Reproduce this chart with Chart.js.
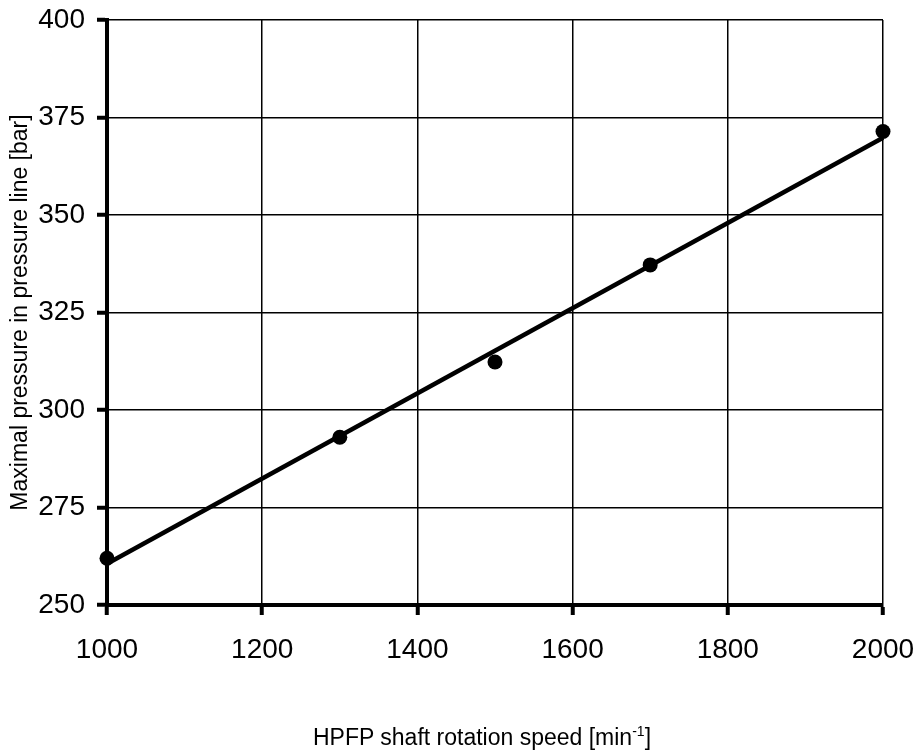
<!doctype html>
<html lang="en">
  <head>
    <meta charset="utf-8">
    <title>HPFP pressure</title>
    <style>
      * {
        margin: 0;
        padding: 0;
      }
      body {
        width: 918px;
        height: 751px;
        background: white;
        position: relative;
        overflow: hidden;
        font-family: "Liberation Sans", Arial, sans-serif;
      }
      .chartBox {
        position: absolute;
        left: 0;
        top: 0;
        width: 918px;
        height: 751px;
      }
      .xTitle {
        position: absolute;
        left: 232px;
        width: 500px;
        top: 726px;
        text-align: center;
        font-size: 23px;
        line-height: 23px;
        color: #000;
      }
      .xTitle sup {
        font-size: 14px;
        vertical-align: 9px;
        line-height: 0;
      }
    </style>
  </head>
  <body>
    <div class="chartBox">
      <canvas id="myChart" width="918" height="751"></canvas>
    </div>
    <div class="xTitle">HPFP shaft rotation speed [min<sup>-1</sup>]</div>
    <script src="https://cdn.jsdelivr.net/npm/chart.js"></script>
    <script>
    // measured points
    const speeds = [1000, 1300, 1500, 1700, 2000];
    const pressures = [262, 293, 312.3, 337.2, 371.4];

    // trend line end points
    const trendSpeeds = [1000, 2000];
    const trendPressures = [260.6, 369.8];

    const yTitle = 'Maximal pressure in pressure line [bar]';
    const fontFam = '"Liberation Sans", Arial, sans-serif';

    // no auto padding for overflowing tick labels, layout.padding decides
    function noPad(s) {
      s.paddingTop = 0;
      s.paddingBottom = 0;
      s.paddingLeft = 0;
      s.paddingRight = 0;
    }

    const data = {
      datasets: [{
        label: 'measured',
        data: speeds.map((s, i) => ({x: s, y: pressures[i]})),
        showLine: false,
        pointRadius: 7.5,
        pointHoverRadius: 7.5,
        pointBackgroundColor: '#000',
        pointBorderWidth: 0,
        borderColor: '#000',
        clip: false,
        order: 0
      }, {
        label: 'trend',
        data: trendSpeeds.map((s, i) => ({x: s, y: trendPressures[i]})),
        showLine: true,
        borderColor: '#000',
        borderWidth: 4.5,
        pointRadius: 0,
        clip: false,
        order: 1
      }]
    };

    const config = {
      type: 'scatter',
      data,
      options: {
        responsive: false,
        animation: false,
        layout: {
          padding: {top: 20, right: 35, left: 0, bottom: 0}
        },
        plugins: {
          legend: { display: false },
          tooltip: { enabled: false }
        },
        scales: {
          x: {
            type: 'linear',
            min: 1000,
            max: 2000,
            afterFit: (s) => { s.height = 146; noPad(s); },
            ticks: {
              stepSize: 200,
              color: '#000',
              padding: 18,
              maxRotation: 0,
              callback: (v) => String(v),
              font: { family: fontFam, size: 28 }
            },
            grid: {
              color: '#000',
              lineWidth: 1.5,
              tickLength: 10,
              tickWidth: 4,
              tickColor: '#000'
            },
            border: { color: '#000', width: 4 }
          },
          y: {
            min: 250,
            max: 400,
            afterFit: (s) => { s.width = 107; noPad(s); },
            ticks: {
              stepSize: 25,
              color: '#000',
              padding: 12,
              font: { family: fontFam, size: 28 }
            },
            grid: {
              color: '#000',
              lineWidth: 1.5,
              tickLength: 10,
              tickWidth: 4,
              tickColor: '#000'
            },
            border: { color: '#000', width: 4 },
            title: {
              display: true,
              text: yTitle,
              color: '#000',
              padding: { top: 7, bottom: 0 },
              font: { family: fontFam, size: 23 }
            }
          }
        }
      }
    };

    const myChart = new Chart(document.getElementById('myChart'), config);
    </script>
  </body>
</html>
